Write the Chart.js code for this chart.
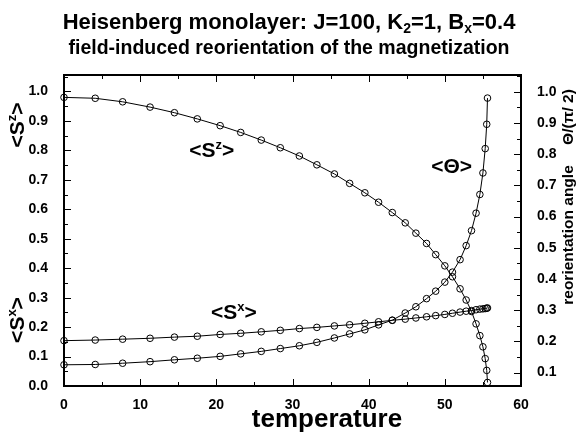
<!DOCTYPE html>
<html>
<head>
<meta charset="utf-8">
<script src="https://cdn.jsdelivr.net/npm/chart.js@4.4.1/dist/chart.umd.min.js"></script>
<style>
  html, body { margin: 0; padding: 0; background: #fff; }
</style>
</head>
<body>
<canvas id="chart" width="578" height="439"></canvas>
<script>
// values
const temperature = [0, 4.1, 7.7, 11.3, 14.5, 17.5, 20.5, 23.2, 25.9, 28.4, 30.9, 33.2, 35.5, 37.5, 39.5, 41.3,
                     43.1, 44.8, 46.2, 47.6, 48.8, 50.0, 51.0, 52.0, 52.8, 53.5, 54.1, 54.6, 55.0, 55.3, 55.5, 55.6];
const sz = [0.980, 0.977, 0.965, 0.947, 0.928, 0.907, 0.884, 0.861, 0.835, 0.809, 0.781, 0.751, 0.720, 0.688, 0.656, 0.624,
            0.589, 0.554, 0.519, 0.484, 0.446, 0.408, 0.371, 0.330, 0.292, 0.253, 0.211, 0.171, 0.133, 0.093, 0.053, 0.012];
const sx = [0.154, 0.156, 0.159, 0.162, 0.166, 0.169, 0.175, 0.179, 0.184, 0.189, 0.195, 0.199, 0.204, 0.208, 0.213, 0.218,
            0.223, 0.227, 0.231, 0.235, 0.239, 0.243, 0.247, 0.251, 0.254, 0.256, 0.259, 0.261, 0.262, 0.263, 0.264, 0.265];
const theta = [0.125, 0.126, 0.130, 0.135, 0.141, 0.146, 0.152, 0.160, 0.168, 0.177, 0.186, 0.197, 0.211, 0.224, 0.237, 0.253,
               0.268, 0.291, 0.311, 0.337, 0.361, 0.390, 0.422, 0.462, 0.507, 0.555, 0.611, 0.671, 0.740, 0.818, 0.896, 0.980];

const FONT = "'Liberation Sans', Arial, Helvetica, sans-serif";

function pts(ys) {
    return temperature.map((t, i) => ({ x: t, y: ys[i] }));
}

// draw a run of text pieces (for sub/superscripts), centred on x
function drawRich(ctx, parts, x, y) {
    let w = 0;
    parts.forEach(p => {
        ctx.font = 'bold ' + p.size + 'px ' + FONT;
        p.w = ctx.measureText(p.t).width;
        w += p.w;
    });
    let cx = x - w / 2;
    ctx.textAlign = 'left';
    ctx.textBaseline = 'alphabetic';
    parts.forEach(p => {
        ctx.font = 'bold ' + p.size + 'px ' + FONT;
        ctx.fillText(p.t, cx, y + (p.dy || 0));
        cx += p.w;
    });
}

function sLabel(sup, size) {
    return [
        { t: '<S', size: size },
        { t: sup, size: Math.round(size * 0.6), dy: -Math.round(size * 0.38) },
        { t: '>', size: size }
    ];
}

const frameTicks = {
    id: 'frameTicks',
    beforeDatasetsDraw(chart) {
        const { ctx, chartArea: a, scales } = chart;
        ctx.save();
        ctx.strokeStyle = '#000';
        ctx.lineWidth = 1;
        const seg = (x1, y1, x2, y2) => {
            ctx.beginPath(); ctx.moveTo(x1, y1); ctx.lineTo(x2, y2); ctx.stroke();
        };
        scales.x.ticks.forEach(t => {
            const px = Math.round(scales.x.getPixelForValue(t.value)) + 0.5;
            const len = Math.round(t.value) % 10 === 0 ? 7 : 4;
            seg(px, a.bottom, px, a.bottom - len);
            seg(px, a.top, px, a.top + len);
        });
        scales.y.ticks.forEach(t => {
            const py = Math.round(scales.y.getPixelForValue(t.value)) + 0.5;
            const len = Math.round(t.value * 20) % 2 === 0 ? 7 : 4;
            seg(a.left, py, a.left + len, py);
        });
        scales.y2.ticks.forEach(t => {
            const py = Math.round(scales.y2.getPixelForValue(t.value)) + 0.5;
            const len = Math.round(t.value * 20) % 2 === 0 ? 7 : 4;
            seg(a.right, py, a.right - len, py);
        });
        ctx.lineWidth = 2;
        ctx.strokeRect(a.left, a.top, a.right - a.left, a.bottom - a.top);
        ctx.restore();
    }
};

const labels = {
    id: 'labels',
    afterDraw(chart) {
        const { ctx, scales } = chart;
        ctx.save();
        ctx.fillStyle = '#000';

        // titles
        drawRich(ctx, [
            { t: 'Heisenberg monolayer: J=100, K', size: 22 },
            { t: '2', size: 14, dy: 4 },
            { t: '=1, B', size: 22 },
            { t: 'x', size: 14, dy: 4 },
            { t: '=0.4', size: 22 }
        ], 289, 29);
        drawRich(ctx, [{ t: 'field-induced reorientation of the magnetization', size: 19.5 }], 289, 54);

        // x axis title
        drawRich(ctx, [{ t: 'temperature', size: 26 }], 327, 427);

        // left axis titles
        [['z', 125], ['x', 320]].forEach(([s, cy]) => {
            ctx.save();
            ctx.translate(24, cy);
            ctx.rotate(-Math.PI / 2);
            drawRich(ctx, sLabel(s, 21), 0, 0);
            ctx.restore();
        });

        // right axis title, two pieces
        [['reorientation angle', 235], ['\u0398/(\u03c0/ 2)', 117]].forEach(([txt, cy]) => {
            ctx.save();
            ctx.translate(573, cy);
            ctx.rotate(-Math.PI / 2);
            drawRich(ctx, [{ t: txt, size: 15.5 }], 0, 0);
            ctx.restore();
        });

        // curve labels inside the plot
        const x = scales.x, y = scales.y;
        drawRich(ctx, sLabel('z', 21), x.getPixelForValue(19.4), y.getPixelForValue(0.806) + 8);
        drawRich(ctx, sLabel('x', 21), x.getPixelForValue(22.3), y.getPixelForValue(0.255) + 8);
        drawRich(ctx, [{ t: '<\u0398>', size: 21 }], x.getPixelForValue(50.9), y.getPixelForValue(0.752) + 8);

        ctx.restore();
    }
};

const tickFont = { family: FONT, size: 14, weight: 'bold' };

function lineSet(ys, axis) {
    return {
        data: pts(ys),
        yAxisID: axis,
        borderColor: '#000',
        borderWidth: 1,
        pointRadius: 3.3,
        pointBorderWidth: 1,
        pointBorderColor: '#000',
        pointBackgroundColor: 'rgba(0,0,0,0)',
        tension: 0,
        fill: false,
        clip: false
    };
}

new Chart(document.getElementById('chart'), {
    type: 'line',
    data: {
        datasets: [lineSet(sz, 'y'), lineSet(sx, 'y'), lineSet(theta, 'y2')]
    },
    options: {
        responsive: false,
        animation: false,
        layout: { padding: { top: 75, left: 0, right: 0, bottom: 0 } },
        plugins: { legend: { display: false }, title: { display: false }, tooltip: { enabled: false } },
        scales: {
            x: {
                type: 'linear', position: 'bottom', min: 0, max: 60,
                grid: { display: false }, border: { display: false },
                ticks: {
                    stepSize: 5, autoSkip: false, maxRotation: 0, padding: 3, color: '#000', font: tickFont,
                    callback: v => (Math.round(v) % 10 === 0 ? String(Math.round(v)) : '')
                },
                afterFit: s => { s.height = 53; }
            },
            y: {
                type: 'linear', position: 'left', min: 0, max: 1.056,
                grid: { display: false }, border: { display: false },
                ticks: {
                    stepSize: 0.05, includeBounds: false, autoSkip: false, padding: 8, color: '#000', font: tickFont,
                    callback: v => (Math.round(v * 20) % 2 === 0 ? v.toFixed(1) : '')
                },
                afterFit: s => { s.width = 64; }
            },
            y2: {
                type: 'linear', position: 'right', min: 0.057, max: 1.054,
                grid: { display: false }, border: { display: false },
                ticks: {
                    stepSize: 0.05, includeBounds: false, autoSkip: false, padding: 8, color: '#000', font: tickFont,
                    callback: v => (Math.round(v * 20) % 2 === 0 ? v.toFixed(1) : '')
                },
                afterFit: s => { s.width = 57; }
            }
        }
    },
    plugins: [frameTicks, labels]
});
</script>
</body>
</html>
